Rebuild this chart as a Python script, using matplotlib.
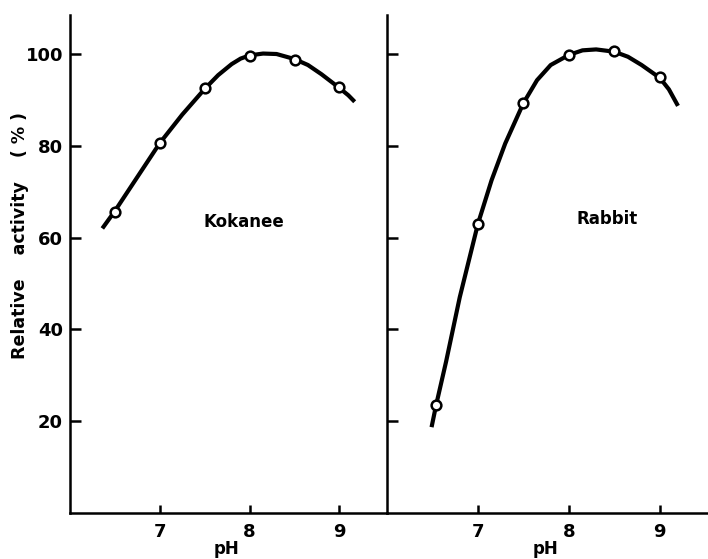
import matplotlib.pyplot as plt

# measured points
koka_ph = [6.5, 7.0, 7.5, 8.0, 8.5, 9.0]
koka_act = [65.6, 80.6, 92.6, 99.6, 98.6, 92.8]
rabb_ph = [6.54, 7.0, 7.5, 8.0, 8.5, 9.0]
rabb_act = [23.5, 63.0, 89.3, 99.8, 100.6, 95.0]

# hand drawn curves
koka_curve_ph = [6.36, 6.5, 6.75, 7.0, 7.25, 7.5, 7.65, 7.8, 7.9, 8.0, 8.15,
                 8.3, 8.5, 8.65, 8.8, 9.0, 9.1, 9.17]
koka_curve_act = [62.0, 65.8, 73.2, 80.6, 86.8, 92.4, 95.4, 97.8, 99.0, 99.7,
                  100.1, 100.0, 98.9, 97.6, 95.6, 92.6, 91.0, 89.6]
rabb_curve_ph = [6.49, 6.54, 6.65, 6.8, 7.0, 7.15, 7.3, 7.5, 7.65, 7.8, 8.0,
                 8.15, 8.3, 8.5, 8.65, 8.8, 9.0, 9.1, 9.2]
rabb_curve_act = [18.7, 23.5, 33.0, 47.0, 63.0, 72.5, 80.5, 89.3, 94.3, 97.6,
                  99.8, 100.8, 101.0, 100.5, 99.4, 97.6, 94.8, 92.3, 88.7]

x_ticks = [7, 8, 9]
y_ticks = [20, 40, 60, 80, 100]

plt.rcParams['font.family'] = 'DejaVu Sans'
plt.rcParams['font.weight'] = 'bold'

fig = plt.figure(figsize=(7.08, 5.59), dpi=100)
ax1 = fig.add_axes([70/708, 46/559, 317/708, 498/559])
ax2 = fig.add_axes([387/708, 46/559, 321/708, 498/559])

panels = [
    (ax1, koka_curve_ph, koka_curve_act, koka_ph, koka_act, 'Kokanee', 7.94, 63.3),
    (ax2, rabb_curve_ph, rabb_curve_act, rabb_ph, rabb_act, 'Rabbit', 8.42, 64.0),
]

for ax, cx, cy, px, py, name, tx, ty in panels:
    ax.plot(cx, cy, color='black', lw=3.0, solid_capstyle='butt', zorder=2)
    ax.plot(px, py, 'o', ms=7, mfc='white', mec='black', mew=1.8, zorder=3)
    ax.text(tx, ty, name, ha='center', va='center', fontsize=12, fontweight='bold')
    ax.set_xlim(6.0, 9.53)
    ax.set_ylim(0, 108.5)
    ax.set_xticks(x_ticks)
    ax.set_yticks(y_ticks)
    ax.spines['top'].set_visible(False)
    ax.spines['right'].set_visible(False)
    ax.spines['left'].set_linewidth(1.8)
    ax.spines['bottom'].set_linewidth(1.8)
    ax.tick_params(axis='x', direction='in', length=6, width=1.8, pad=7, labelsize=13)
    ax.tick_params(axis='y', direction='in', length=8, width=1.8, pad=5, labelsize=13)
    ax.set_xlabel('pH', fontsize=12, fontweight='bold', va='center')
    ax.xaxis.set_label_coords(0.495, -0.073)
    ax.patch.set_visible(False)

ax2.tick_params(axis='y', labelleft=False)
ax1.set_ylabel('Relative    activity    ( % )', fontsize=12.5, fontweight='bold',
               va='center')
ax1.yaxis.set_label_coords(-0.158, 0.558)

fig.savefig('out.png', dpi=100)
